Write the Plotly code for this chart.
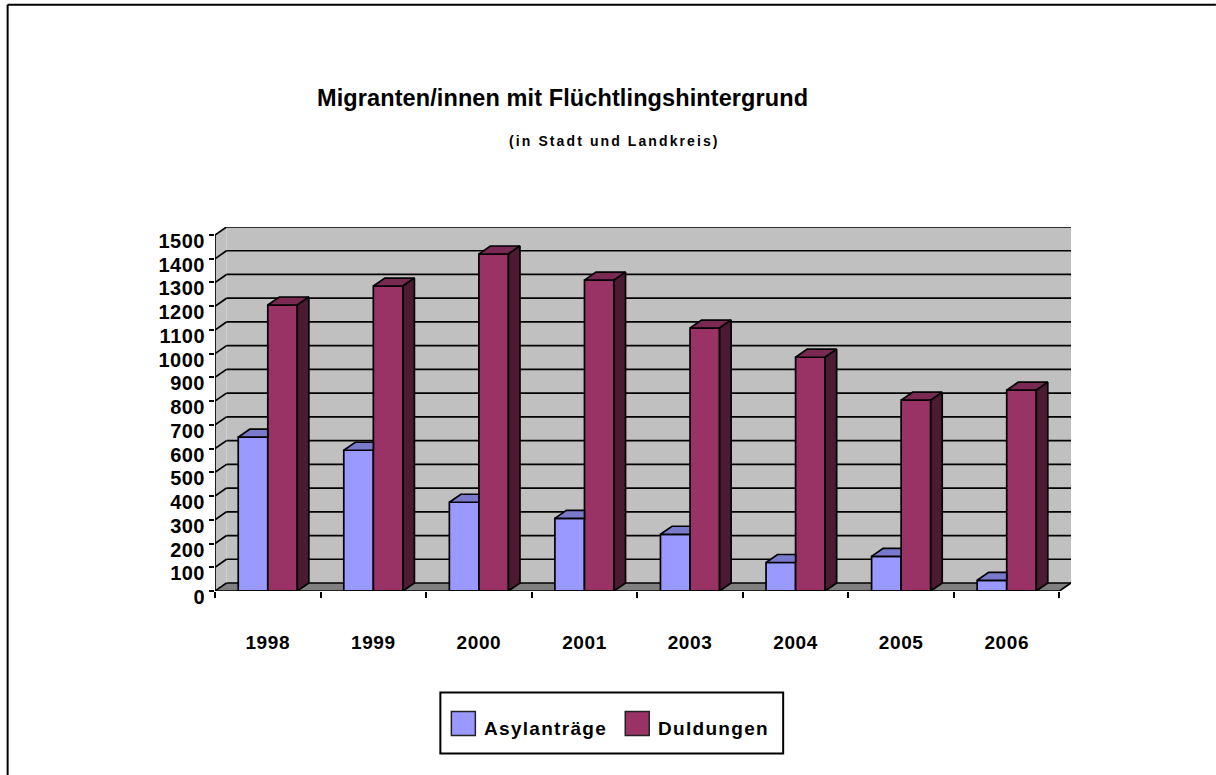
import plotly.graph_objects as go

# ---- data ----
years = ["1998", "1999", "2000", "2001", "2003", "2004", "2005", "2006"]
asyl = [648, 593, 374, 306, 239, 120, 146, 45]
duld = [1205, 1285, 1420, 1310, 1108, 985, 804, 846]
y_ticks = list(range(0, 1501, 100))

W, H = 1216, 775
L, R, T, B = 214.5, 1071.0, 227.0, 590.7
DX = 11.5 / 105.5     # depth in category units
DY = 8.0 / 0.23713    # depth in value units
BW = 0.28
xmax = 8 + DX
ymax = 1500 + DY

BLUE, BLUE_TOP = "#9999FF", "#7A7ACC"
RED, RED_TOP, RED_SIDE = "#993366", "#7A2952", "#4D1A33"
WALL, FLOOR = "#C0C0C0", "#808080"
LW = 1.7
FONT = "Liberation Sans, Arial, sans-serif"


def px(x):
    return (x - L) / (R - L)


def py(y):
    return (B - y) / (B - T)


def spaced(text, s):
    return f'<span style="letter-spacing:{s}px"><b>{text}</b></span>'


centers = [i + 0.5 for i in range(len(years))]
fig = go.Figure()
fig.add_bar(x=centers, y=asyl, name="Asylanträge", marker=dict(color=BLUE, line=dict(color="black", width=LW)))
fig.add_bar(x=centers, y=duld, name="Duldungen", marker=dict(color=RED, line=dict(color="black", width=LW)))


def poly(xs, ys, color):
    fig.add_scatter(x=xs + xs[:1], y=ys + ys[:1], mode="lines", fill="toself", fillcolor=color,
                    line=dict(color="black", width=LW), hoverinfo="skip", showlegend=False)


for c, a, d in zip(centers, asyl, duld):
    # blue top: its rear right part is hidden behind the red bar
    poly([c - BW, c, c, c - BW + DX], [a, a, a + DY, a + DY], BLUE_TOP)
    # red top and side
    poly([c, c + BW, c + BW + DX, c + DX], [d, d, d + DY, d + DY], RED_TOP)
    poly([c + BW, c + BW + DX, c + BW + DX, c + BW], [0, DY, d + DY, d], RED_SIDE)

shapes = []
# walls and floor
shapes.append(dict(type="rect", xref="x", yref="y", x0=DX, x1=xmax, y0=DY, y1=ymax,
                   fillcolor=WALL, line=dict(width=0), layer="below"))
shapes.append(dict(type="path", xref="x", yref="y", path=f"M0,0 L{DX},{DY} L{DX},{ymax} L0,1500 Z",
                   fillcolor=WALL, line=dict(width=0), layer="below"))
shapes.append(dict(type="path", xref="x", yref="y", path=f"M0,0 L{DX},{DY} L{xmax},{DY} L8,0 Z",
                   fillcolor=FLOOR, line=dict(width=0), layer="below"))
# gridlines
for v in y_ticks:
    shapes.append(dict(type="line", xref="x", yref="y", x0=0, y0=v, x1=DX, y1=v + DY,
                       line=dict(color="black", width=LW), layer="below"))
    shapes.append(dict(type="line", xref="x", yref="y", x0=DX, y0=v + DY, x1=xmax, y1=v + DY,
                       line=dict(color="black", width=LW), layer="below"))
shapes.append(dict(type="line", xref="x", yref="y", x0=8, y0=0, x1=xmax, y1=DY,
                   line=dict(color="black", width=LW), layer="below"))
# front axis lines
shapes.append(dict(type="line", xref="x", yref="y", x0=0, y0=0, x1=0, y1=1500, line=dict(color="black", width=LW)))
shapes.append(dict(type="line", xref="x", yref="y", x0=0, y0=0, x1=8, y1=0, line=dict(color="black", width=LW)))
# outer frame: only the top and left edges fall inside the picture
shapes.append(dict(type="line", xref="paper", yref="paper", x0=px(7), x1=px(1216), y0=py(5), y1=py(5),
                   line=dict(color="black", width=2)))
shapes.append(dict(type="line", xref="paper", yref="paper", x0=px(7), x1=px(7), y0=py(5), y1=py(775),
                   line=dict(color="black", width=2)))
# legend
shapes.append(dict(type="rect", xref="paper", yref="paper", x0=px(440), x1=px(783), y0=py(692), y1=py(753),
                   line=dict(color="black", width=2), fillcolor="white"))
shapes.append(dict(type="rect", xref="paper", yref="paper", x0=px(451), x1=px(475), y0=py(711), y1=py(735),
                   line=dict(color="#222222", width=1.5), fillcolor=BLUE))
shapes.append(dict(type="rect", xref="paper", yref="paper", x0=px(625), x1=px(649), y0=py(711), y1=py(735),
                   line=dict(color="#222222", width=1.5), fillcolor=RED))

anns = [
    dict(text=spaced("Migranten/innen mit Flüchtlingshintergrund", 0.1), x=px(562), y=py(98),
         xref="paper", yref="paper", xanchor="center", yanchor="middle",
         showarrow=False, font=dict(family=FONT, size=23.5, color="black")),
    dict(text=spaced("(in Stadt und Landkreis)", 2.1), x=px(614), y=py(141),
         xref="paper", yref="paper", xanchor="center", yanchor="middle",
         showarrow=False, font=dict(family=FONT, size=14, color="black")),
    dict(text=spaced("Asylanträge", 1.3), x=px(482), y=py(728), xref="paper", yref="paper",
         xanchor="left", yanchor="middle", showarrow=False, font=dict(family=FONT, size=19, color="black")),
    dict(text=spaced("Duldungen", 1.3), x=px(656), y=py(728), xref="paper", yref="paper",
         xanchor="left", yanchor="middle", showarrow=False, font=dict(family=FONT, size=19, color="black")),
]

fig.update_layout(
    width=W, height=H, autosize=False,
    margin=dict(l=L, r=W - R, t=T, b=H - B, pad=0),
    paper_bgcolor="white", plot_bgcolor="white",
    barmode="group", bargap=0.44, bargroupgap=0,
    showlegend=False, shapes=shapes, annotations=anns,
    xaxis=dict(range=[0, xmax], tickmode="array", tickvals=centers, ticktext=[spaced(y, 0.6) for y in years],
               ticks="outside", ticklen=1, tickcolor="rgba(0,0,0,0)", ticklabelstandoff=33,
               tickfont=dict(family=FONT, size=19, color="black"),
               showgrid=False, zeroline=False, showline=False,
               minor=dict(tickmode="array", tickvals=list(range(9)), ticks="outside", ticklen=6,
                          tickwidth=LW, tickcolor="black", showgrid=False)),
    yaxis=dict(range=[0, ymax], tickmode="array", tickvals=y_ticks, ticktext=[spaced(v, 0.5) for v in y_ticks],
               ticks="outside", ticklen=5, tickwidth=LW, tickcolor="black", ticklabelshift=6,
               tickfont=dict(family=FONT, size=20, color="black"),
               showgrid=False, zeroline=False, showline=False),
)

fig.write_html("out.html", config=dict(displayModeBar=False), post_script="document.body.style.margin='0';")
